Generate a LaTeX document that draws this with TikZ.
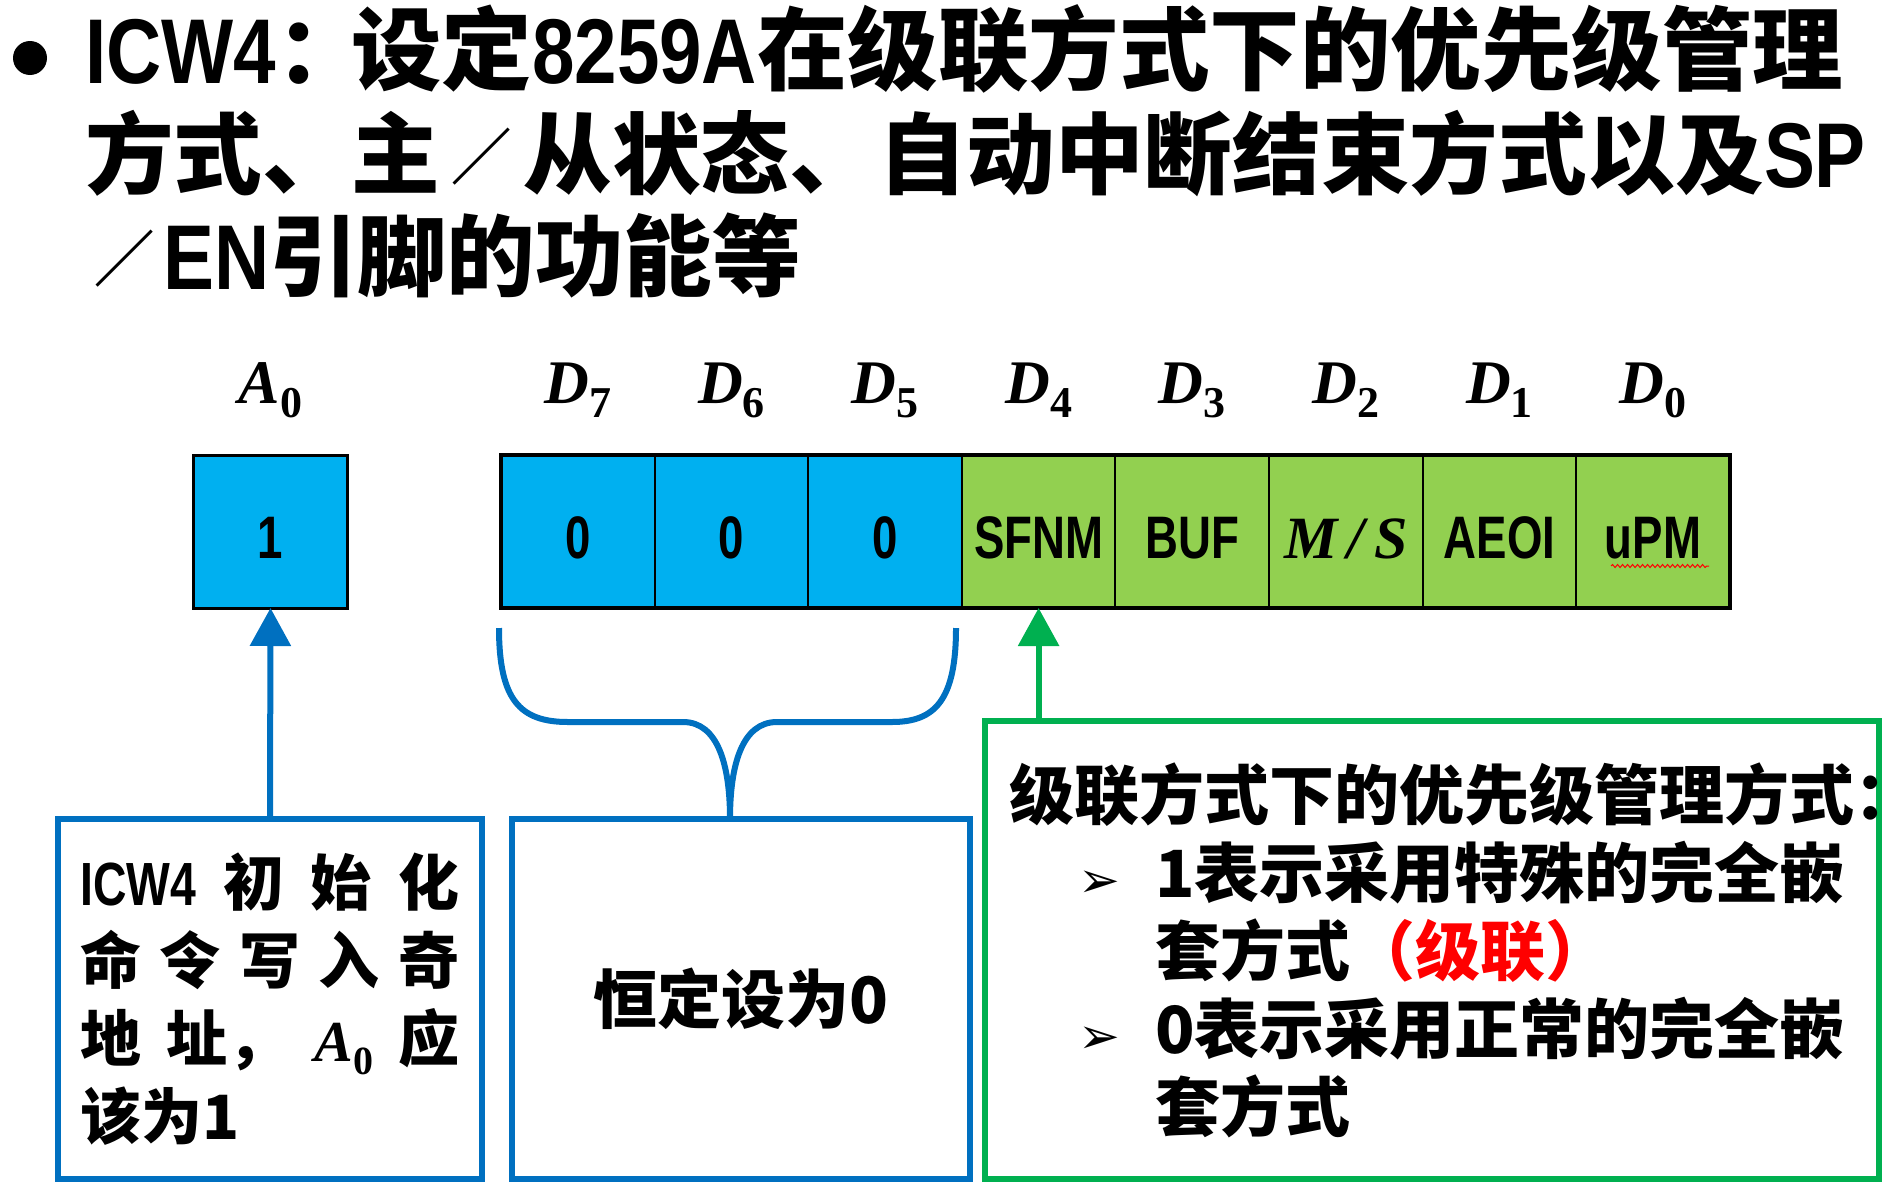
\documentclass[tikz,border=0pt]{standalone}
\usepackage{graphicx}
\usepackage{fontspec}
\usetikzlibrary{arrows.meta,decorations.pathmorphing}
\newfontfamily\cjk{Noto Sans CJK SC}
\newfontfamily\titlat{Liberation Sans}[FakeStretch=0.83]
\newfontfamily\narrowf{Liberation Sans}[FakeStretch=0.76]
\newfontfamily\serf{Liberation Serif}
\newfontfamily\symf{DejaVu Sans}
\definecolor{cblue}{HTML}{00B0F0}
\definecolor{cgreen}{HTML}{92D050}
\definecolor{lblue}{HTML}{0070C0}
\definecolor{lgreen}{HTML}{00B050}
\newcommand\tlat[1]{{\titlat\fontsize{92}{92}\selectfont #1}}
\newcommand\tslash[1]{\makebox[#1][c]{\raisebox{8pt}{\scalebox{0.68}{／}}}}
\newcommand\labtxt[2]{{\serf\bfseries\itshape\fontsize{62}{62}\selectfont #1}\raisebox{-14pt}{\serf\bfseries\fontsize{44}{44}\selectfont #2}}
\newcommand\labsm[2]{{\serf\bfseries\itshape\fontsize{58}{58}\selectfont #1}\raisebox{-13pt}{\serf\bfseries\fontsize{40}{40}\selectfont #2}}
\newcommand\MSlab{{\serf\bfseries\itshape M\,/\,S}}
\newcommand\arrbul{\makebox[77pt][l]{\symf\mdseries\fontsize{50}{50}\selectfont ➢}}
\tikzset{
  cell/.style={draw=black, line width=2pt, minimum width=153.6pt, minimum height=153pt,
    inner sep=0pt, outer sep=0pt, font=\narrowf\bfseries\fontsize{60}{60}\selectfont,
    text height=53pt, text depth=0pt},
  lab/.style={inner sep=0pt, anchor=base},
  titletext/.style={inner sep=0pt, anchor=base west, font=\cjk\bfseries\fontsize{88.6}{103}\selectfont},
  bluebox/.style={draw=lblue, line width=6pt, inner sep=0pt},
  greenbox/.style={draw=lgreen, line width=6pt, inner sep=0pt},
  bluearrow/.style={draw=lblue, line width=6pt, -{Triangle[width=40pt,length=38pt]}},
  greenarrow/.style={draw=lgreen, line width=6pt, -{Triangle[width=40pt,length=38pt]}},
}
\begin{document}
\begin{tikzpicture}[x=1pt,y=-1pt]
\path[use as bounding box, fill=white] (0,0) rectangle (1894,1191);

% title
\node[circle, fill=black, minimum size=34pt, inner sep=0pt] (bul) at (30,58) {};
\node[titletext, font=\cjk\bfseries\fontsize{90.5}{103}\selectfont] (t1) at (85,83)
  {\tlat{ICW4}\makebox[75pt][l]{：}设定\tlat{8259A}在级联方式下的优先级管理};
\node[titletext] (t2) at (85,187) {方式、主\tslash{84pt}从状态、自动中断结束方式以及\tlat{SP}};
\node[titletext] (t3) at (85,289) {\tslash{78pt}\tlat{EN}引脚的功能等};

% register cells
\node[cell, fill=cblue, line width=3pt] (a0) at (270.5,531.5) {1};
\node[cell, fill=cblue] (c7) at (577.8,531.5) {0};
\node[cell, fill=cblue] (c6) at (731.4,531.5) {0};
\node[cell, fill=cblue] (c5) at (885.0,531.5) {0};
\node[cell, fill=cgreen] (c4) at (1038.6,531.5) {SFNM};
\node[cell, fill=cgreen] (c3) at (1192.2,531.5) {BUF};
\node[cell, fill=cgreen] (c2) at (1345.8,531.5) {\MSlab};
\node[cell, fill=cgreen] (c1) at (1499.4,531.5) {AEOI};
\node[cell, fill=cgreen] (c0) at (1653.0,531.5) {uPM};
\draw[line width=3.5pt] (c7.north west) rectangle (c0.south east);
\draw[red, line width=1pt, decorate, decoration={snake, amplitude=1.5pt, segment length=5pt}]
  (1611,566) -- (1709,566);

% bit labels
\node[lab] (la0) at ([yshift=52pt]a0.north) {\labtxt{A}{0}};
\node[lab] (l7) at ([yshift=52pt]c7.north) {\labtxt{D}{7}};
\node[lab] (l6) at ([yshift=52pt]c6.north) {\labtxt{D}{6}};
\node[lab] (l5) at ([yshift=52pt]c5.north) {\labtxt{D}{5}};
\node[lab] (l4) at ([yshift=52pt]c4.north) {\labtxt{D}{4}};
\node[lab] (l3) at ([yshift=52pt]c3.north) {\labtxt{D}{3}};
\node[lab] (l2) at ([yshift=52pt]c2.north) {\labtxt{D}{2}};
\node[lab] (l1) at ([yshift=52pt]c1.north) {\labtxt{D}{1}};
\node[lab] (l0) at ([yshift=52pt]c0.north) {\labtxt{D}{0}};

% explanation boxes
\node[bluebox, minimum width=424pt, minimum height=360pt, text width=379pt, align=left,
  font=\cjk\bfseries\fontsize{61}{78}\selectfont] (box1) at (270,999)
  {\makebox[379pt][s]{{\narrowf ICW4}\hfill 初\hfill 始\hfill 化}\\
   \makebox[379pt][s]{命\hfill 令\hfill 写\hfill 入\hfill 奇}\\
   \makebox[379pt][s]{地\hfill 址，\hfill \labsm{A}{0}\hfill 应}\\
   该为1};
\node[bluebox, minimum width=458pt, minimum height=360pt,
  font=\cjk\bfseries\fontsize{64}{64}\selectfont] (box2) at (741,999) {恒定设为0};
\node[greenbox, minimum width=894pt, minimum height=458pt, text width=846pt, align=left,
  font=\cjk\bfseries\fontsize{65}{78}\selectfont] (box3) at (1432,950)
  {级联方式下的优先级管理方式：\\
   \hspace*{69pt}\arrbul 1表示采用特殊的完全嵌\\
   \hspace*{146pt}套方式{\color{red}（级联）}\\
   \hspace*{69pt}\arrbul 0表示采用正常的完全嵌\\
   \hspace*{146pt}套方式};

% connectors
\draw[bluearrow] (box1.north) -- (a0.south);
\draw[greenarrow] (box3.north -| c4.south) -- (c4.south);
\coordinate (btip) at (730,819);
\draw[lblue, line width=6pt] (499,628) .. controls (499,700) and (520,722) .. (568,722)
  -- (683,722) .. controls (718,722) and (730,765) .. (btip);
\draw[lblue, line width=6pt] (956,628) .. controls (956,700) and (935,722) .. (892,722)
  -- (777,722) .. controls (742,722) and (730,765) .. (btip);
\end{tikzpicture}
\end{document}
